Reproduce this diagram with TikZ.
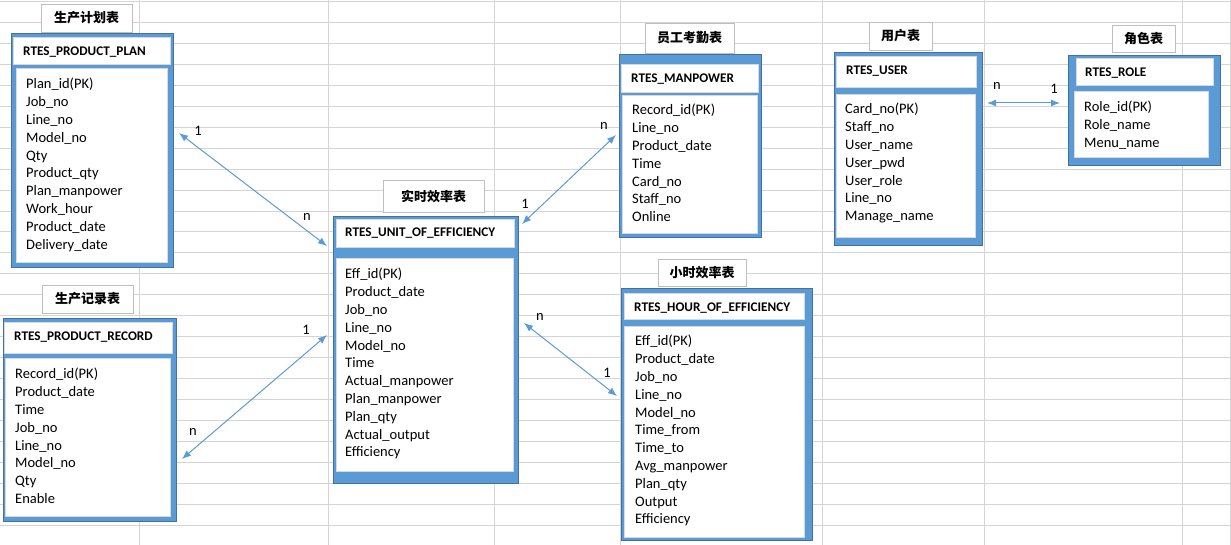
\documentclass[tikz,border=0pt]{standalone}
\usepackage{fontspec}
\setmainfont{Carlito}
\newfontfamily\cjk{Noto Sans CJK SC}
\usepackage{tikz}
\usetikzlibrary{fit,calc}
\usetikzlibrary{arrows.meta}
\definecolor{tblue}{HTML}{5B9BD5}
\definecolor{tbluedark}{HTML}{41719C}
\definecolor{gridgray}{HTML}{D4D4D4}
\definecolor{tagline}{HTML}{BFBFBF}

\begin{document}
\begin{tikzpicture}[x=1pt, y=-1pt, >={Latex[length=9pt,width=7pt]},
	grid/.style={draw=gridgray, line width=0.9pt},
	frame/.style={draw=tbluedark, fill=tblue, line width=1pt, inner sep=0pt},
	cell/.style={draw=gray!30, fill=white, line width=0.8pt, inner sep=0pt},
	tag/.style={draw=tagline, fill=white, line width=0.8pt, inner sep=0pt, font=\fontsize{13}{15}\cjk\bfseries},
	tname/.style={anchor=base west, inner sep=0pt, font=\fontsize{13.2}{16}\selectfont\bfseries},
	fields/.style={anchor=north west, inner sep=0pt, align=left, font=\fontsize{14.5}{17.8}\selectfont},
	link/.style={<->, draw=tblue, line width=1pt},
	card/.style={inner sep=0pt, font=\fontsize{14.5}{17}\selectfont}]
				\useasboundingbox (0,0) rectangle (1231,545);

				% Grid

				\foreach \k in {0,...,26} \draw[grid] (0,1.5+20.95*\k) -- (1231,1.5+20.95*\k);
				\foreach \x in {139,328,494,620,822,984,1182,1230} \draw[grid] (\x,0) -- (\x,545);

				% Tables

				\node [tag, minimum width=91, minimum height=28] (plan-tag) at (86.5,18) {生产计划表};
				\node [frame, fit={(11,34) (173,268)}] (plan) {};
				\node [cell, fit={(13,37) (170,64)}] (plan-head) {};
				\node [cell, fit={(16,68) (167,262)}] (plan-body) {};
				\node [tname] (plan-name) at (23,55.7) {RTES\_PRODUCT\_PLAN};
				\node [fields] (plan-f) at (26,76.2)
				{\strut Plan\_id(PK)\\Job\_no\\Line\_no\\Model\_no\\Qty\\Product\_qty\\Plan\_manpower\\Work\_hour\\Product\_date\\Delivery\_date};

				\node [tag, minimum width=91, minimum height=28] (rec-tag) at (87.5,299) {生产记录表};
				\node [frame, fit={(3,318) (176,521)}] (rec) {};
				\node [cell, fit={(4,322) (172,353)}] (rec-head) {};
				\node [cell, fit={(5,358) (170,516)}] (rec-body) {};
				\node [tname] (rec-name) at (14,340.3) {RTES\_PRODUCT\_RECORD};
				\node [fields] (rec-f) at (15,366.2)
				{\strut Record\_id(PK)\\Product\_date\\Time\\Job\_no\\Line\_no\\Model\_no\\Qty\\Enable};

				\node [tag, minimum width=101, minimum height=32] (uef-tag) at (433.5,196) {实时效率表};
				\node [frame, fit={(333,217) (518,483)}] (uef) {};
				\node [cell, fit={(336,219) (514,247)}] (uef-head) {};
				\node [cell, fit={(336,258) (513,471)}] (uef-body) {};
				\node [tname] (uef-name) at (345,236.3) {RTES\_UNIT\_OF\_EFFICIENCY};
				\node [fields] (uef-f) at (345,266.2)
				{\strut Eff\_id(PK)\\Product\_date\\Job\_no\\Line\_no\\Model\_no\\Time\\Actual\_manpower\\Plan\_manpower\\Plan\_qty\\Actual\_output\\Efficiency};

				\node [tag, minimum width=89, minimum height=30] (mp-tag) at (689.5,38) {员工考勤表};
				\node [frame, fit={(619,55) (761,238)}] (mp) {};
				\node [cell, fit={(621,64) (758,92)}] (mp-head) {};
				\node [cell, fit={(622,95) (757,233)}] (mp-body) {};
				\node [tname] (mp-name) at (631,82.3) {RTES\_MANPOWER};
				\node [fields] (mp-f) at (632,102.2)
				{\strut Record\_id(PK)\\Line\_no\\Product\_date\\Time\\Card\_no\\Staff\_no\\Online};

				\node [tag, minimum width=63, minimum height=28] (user-tag) at (900.5,36) {用户表};
				\node [frame, fit={(834,53) (982,246)}] (user) {};
				\node [cell, fit={(836,56) (976,87)}] (user-head) {};
				\node [cell, fit={(836,94) (975,237)}] (user-body) {};
				\node [tname] (user-name) at (846,74.3) {RTES\_USER};
				\node [fields] (user-f) at (845,101.2)
				{\strut Card\_no(PK)\\Staff\_no\\User\_name\\User\_pwd\\User\_role\\Line\_no\\Manage\_name};

				\node [tag, minimum width=63, minimum height=27] (role-tag) at (1143.5,38.5) {角色表};
				\node [frame, fit={(1068,56) (1220,166)}] (role) {};
				\node [cell, fit={(1076,58) (1213,85)}] (role-head) {};
				\node [cell, fit={(1074,91) (1208,157)}] (role-body) {};
				\node [tname] (role-name) at (1085,76.3) {RTES\_ROLE};
				\node [fields] (role-f) at (1084,99.2)
				{\strut Role\_id(PK)\\Role\_name\\Menu\_name};

				\node [tag, minimum width=88, minimum height=27] (hour-tag) at (702,272.5) {小时效率表};
				\node [frame, fit={(621,289) (812,540)}] (hour) {};
				\node [cell, fit={(624,293) (804,319)}] (hour-head) {};
				\node [cell, fit={(624,326) (804,537)}] (hour-body) {};
				\node [tname] (hour-name) at (634,311.3) {RTES\_HOUR\_OF\_EFFICIENCY};
				\node [fields] (hour-f) at (635,333.2)
				{\strut Eff\_id(PK)\\Product\_date\\Job\_no\\Line\_no\\Model\_no\\Time\_from\\Time\_to\\Avg\_manpower\\Plan\_qty\\Output\\Efficiency};

				% Arrows

				\coordinate (plan-r) at (179,133);\coordinate (uef-l1) at (327,246);
				\coordinate (rec-r) at (182,459);\coordinate (uef-l2) at (327,335);
				\coordinate (uef-r1) at (522,224);\coordinate (mp-l) at (616,135);
				\coordinate (uef-r2) at (524,323);\coordinate (hour-l) at (617,396);
				\coordinate (user-r) at (987,103);\coordinate (role-l) at (1060,103);
				\draw[link] (plan-r) -- (uef-l1);
				\draw[link] (rec-r) -- (uef-l2);
				\draw[link] (uef-r1) -- (mp-l);
				\draw[link] (uef-r2) -- (hour-l);
				\draw[link] (user-r) -- (role-l);

				% Cardinalities

				\node [card] (c1a) at (198,131) {1};\node [card] (c1b) at (307,217) {n};
				\node [card] (c2a) at (306,330) {1};\node [card] (c2b) at (193,432) {n};
				\node [card] (c3a) at (525,204) {1};\node [card] (c3b) at (604,126) {n};
				\node [card] (c4a) at (540,317) {n};\node [card] (c4b) at (607,373) {1};
				\node [card] (c5a) at (997,86) {n};\node [card] (c5b) at (1054,89) {1};
			\end{tikzpicture}
\end{document}
